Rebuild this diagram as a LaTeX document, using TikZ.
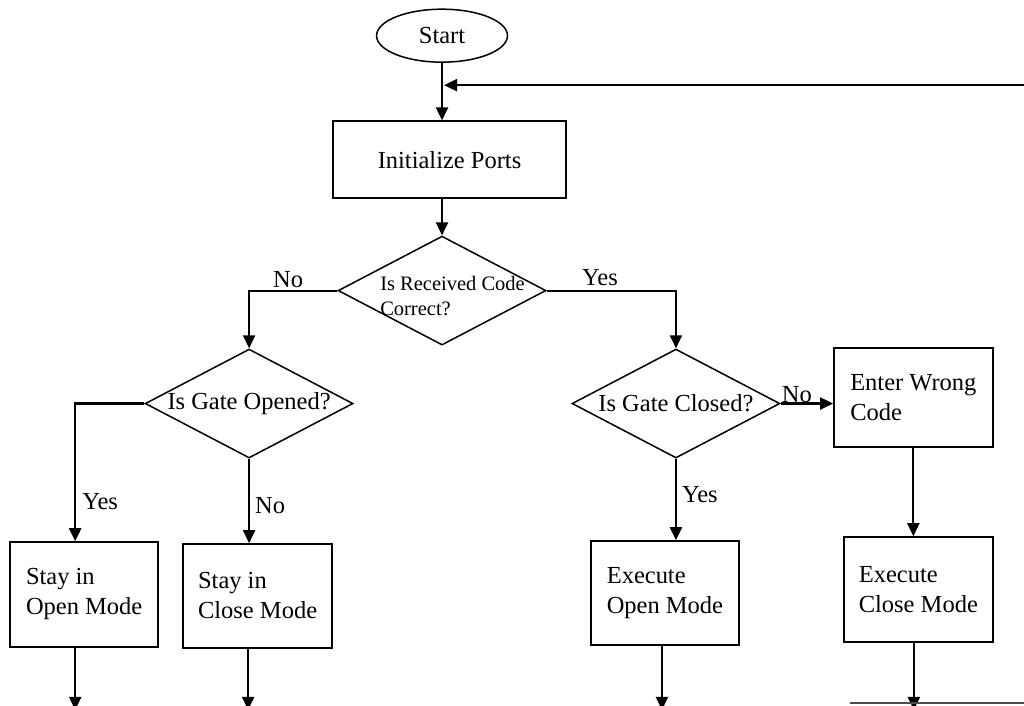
\documentclass[tikz,border=0pt]{standalone}
\usepackage{fontspec}
\setmainfont{Liberation Serif}
\usetikzlibrary{arrows.meta,shapes.geometric,positioning}

\begin{document}
\begin{tikzpicture}[x=1pt,y=-1pt,
  every node/.style={font=\fontsize{24.5}{30}\selectfont},
  box/.style={draw,line width=1.5pt,align=left,inner sep=0pt},
  decision/.style={draw,diamond,line width=1.5pt,aspect=1.908,minimum width=208pt,minimum height=109pt,inner sep=0pt},
  arr/.style={line width=2.1pt,-{Triangle[length=13pt,width=12pt]}},
  lbl/.style={inner sep=0pt}]
\filldraw[color=white] (0,0) rectangle (1024,705);
\useasboundingbox (0,0) rectangle (1024,705);
% Drawing shapes
\node[draw,ellipse,line width=1.5pt,minimum width=131pt,minimum height=53pt,inner sep=0pt] (start) at (442,35.5) {Start};
\node[box,minimum width=233pt,minimum height=77pt] (init) at (449.5,159.5) {Initialize Ports};
\node[decision] (recv) at (442,290.5) {};
\node[font=\fontsize{20.5}{25}\selectfont,align=left,inner sep=0pt] (recvtext) at (452.5,296) {Is Received Code\\Correct?};
\node[decision] (opened) at (249,403.5) {\raisebox{-4pt}{Is Gate Opened?}};
\node[decision] (closed) at (676,403.5) {\raisebox{-4pt}{Is Gate Closed?}};
\node[box,minimum width=159pt,minimum height=99pt] (wrong) at (913.5,397.5) {Enter Wrong\\Code};
\node[box,minimum width=148pt,minimum height=105pt] (stayopen) at (84,594.5) {Stay in\\Open Mode};
\node[box,minimum width=149pt,minimum height=104pt] (stayclose) at (257.5,596) {Stay in\\Close Mode};
\node[box,minimum width=148pt,minimum height=104pt] (execopen) at (665,593) {Execute\\Open Mode};
\node[box,minimum width=149pt,minimum height=105pt] (execclose) at (918.5,589.5) {Execute\\Close Mode};
% Free ends
\coordinate (loopin) at (1030,85);
\coordinate (endA) at (75,710);
\coordinate (endB) at (248,710);
\coordinate (endC) at (662,710);
\coordinate (endD) at (914,710);
\coordinate (tailL) at (850,703);
\coordinate (tailR) at (1030,703);
% Drawing connectors
\draw[arr] (start) -- (start |- init.north);
\draw[arr] (loopin) -- ([xshift=2pt]start |- loopin);
\draw[arr] (init.south -| recv) -- (recv.north);
\draw[arr] (recv.west) -| (opened.north);
\draw[arr] (recv.east) -| (closed.north);
\draw[arr] (opened.west) -| ([xshift=-9pt]stayopen.north);
\draw[arr] (opened.south) -- (opened.south |- stayclose.north);
\draw[arr] (closed.east) -- (closed.east -| wrong.west);
\draw[arr] (closed.south) -- (closed.south |- execopen.north);
\draw[arr] (wrong.south) -- (wrong.south |- execclose.north);
\draw[arr] (stayopen.south -| endA) -- (endA);
\draw[arr] (stayclose.south -| endB) -- (endB);
\draw[arr] (execopen.south -| endC) -- (endC);
\draw[arr] (execclose.south -| endD) -- (endD);
\draw[line width=1.5pt,black!70] (tailL) -- (tailR);
% Branch labels
\node[lbl] (noA) at (288,280) {No};
\node[lbl] (yesA) at (600,278) {Yes};
\node[lbl] (yesB) at (100,502) {Yes};
\node[lbl] (noB) at (270,506) {No};
\node[lbl] (noC) at (797,395) {No};
\node[lbl] (yesC) at (700,495) {Yes};
\end{tikzpicture}
\end{document}
